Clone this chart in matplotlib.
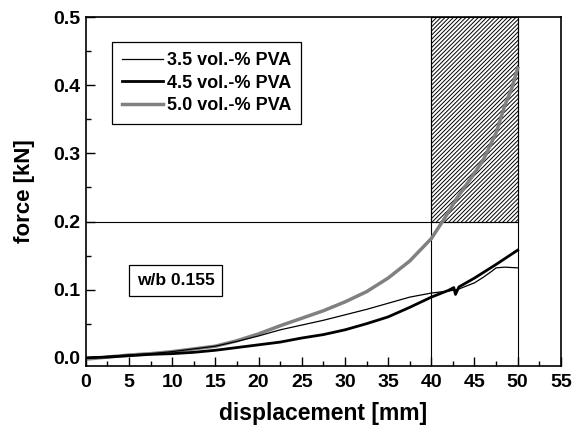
import matplotlib
matplotlib.use("Agg")
import matplotlib.pyplot as plt
from matplotlib.patches import Rectangle
from matplotlib.ticker import MultipleLocator, FormatStrFormatter

plt.rcParams["font.family"] = ["Liberation Sans", "DejaVu Sans"]
plt.rcParams["font.weight"] = "bold"
plt.rcParams["hatch.linewidth"] = 0.7

# displacement [mm] / force [kN]
x_35 = [0, 2.5, 5, 7.5, 10, 12.5, 15, 17.5, 20, 22.5, 25, 27.5, 30, 32.5, 35, 37.5,
        40, 42, 43, 44, 45, 46, 47, 47.5, 48.5, 50]
f_35 = [0.0, 0.002, 0.004, 0.006, 0.009, 0.013, 0.017, 0.024, 0.032, 0.041, 0.048, 0.055,
        0.063, 0.071, 0.080, 0.089, 0.095, 0.098, 0.100, 0.105, 0.110, 0.118, 0.127, 0.132,
        0.133, 0.132]
x_45 = [0, 2.5, 5, 7.5, 10, 12.5, 15, 17.5, 20, 22.5, 25, 27.5, 30, 32.5, 35, 37.5,
        40, 42, 42.6, 42.8, 43.2, 45, 47.5, 50]
f_45 = [0.0, 0.001, 0.003, 0.005, 0.006, 0.008, 0.011, 0.015, 0.019, 0.023, 0.029, 0.034,
        0.041, 0.050, 0.060, 0.074, 0.089, 0.099, 0.103, 0.093, 0.104, 0.117, 0.137, 0.158]
x_50 = [0, 2.5, 5, 7.5, 10, 12.5, 15, 17.5, 20, 22.5, 25, 27.5, 30, 32.5, 35, 37.5,
        40, 41.5, 43, 44.5, 46, 47.5, 48.5, 49.3, 50]
f_50 = [-0.002, 0.001, 0.004, 0.006, 0.009, 0.013, 0.017, 0.025, 0.035, 0.047, 0.058, 0.069,
        0.082, 0.097, 0.117, 0.142, 0.175, 0.204, 0.235, 0.262, 0.290, 0.330, 0.370, 0.395,
        0.425]

fig = plt.figure(figsize=(5.8, 4.29), dpi=100)
ax = fig.add_axes([0.148, 0.147, 0.819, 0.813])

ax.add_patch(Rectangle((40, 0.2), 10, 0.3, fill=False, hatch="////////", edgecolor="black",
                       linewidth=0.8, zorder=1))
ax.plot([0, 50], [0.2, 0.2], color="black", lw=0.8, zorder=1)
ax.axvline(40, color="black", lw=0.8, zorder=1)
ax.axvline(50, color="black", lw=0.8, zorder=1)

ax.plot(x_35, f_35, color="black", lw=0.9, label="3.5 vol.-% PVA", zorder=3)
ax.plot(x_45, f_45, color="black", lw=2.0, label="4.5 vol.-% PVA", zorder=3)
ax.plot(x_50, f_50, color="#808080", lw=2.5, label="5.0 vol.-% PVA", zorder=2)

ax.set_xlim(0, 55)
ax.set_ylim(-0.012, 0.5)
ax.xaxis.set_major_locator(MultipleLocator(5))
ax.xaxis.set_minor_locator(MultipleLocator(2.5))
ax.yaxis.set_major_locator(MultipleLocator(0.1))
ax.yaxis.set_minor_locator(MultipleLocator(0.05))
ax.yaxis.set_major_formatter(FormatStrFormatter("%.1f"))
ax.tick_params(which="both", direction="in", top=False, right=False, labelsize=14, width=1)
ax.tick_params(which="major", length=6.5)
ax.tick_params(which="minor", length=3.5)
ax.tick_params(axis="x", pad=6)
ax.tick_params(axis="y", pad=4)
for s in ax.spines.values():
    s.set_linewidth(1.2)

ax.set_xlabel("displacement [mm]", fontsize=16.5, fontweight="bold", labelpad=8)
ax.set_ylabel("force [kN]", fontsize=16, fontweight="bold", labelpad=13)

leg = ax.legend(loc="upper left", bbox_to_anchor=(0.055, 0.928), borderaxespad=0,
                fontsize=13, handlelength=2.3, handletextpad=0.2, labelspacing=0.3,
                borderpad=0.55, fancybox=False, framealpha=1, edgecolor="black")
leg.get_frame().set_linewidth(0.9)

ax.text(10.4, 0.113, "w/b 0.155", ha="center", va="center", fontsize=12.5, fontweight="bold",
        bbox=dict(boxstyle="square,pad=0.45", facecolor="white", edgecolor="black", linewidth=0.9))

fig.savefig("out.png", dpi=100)
